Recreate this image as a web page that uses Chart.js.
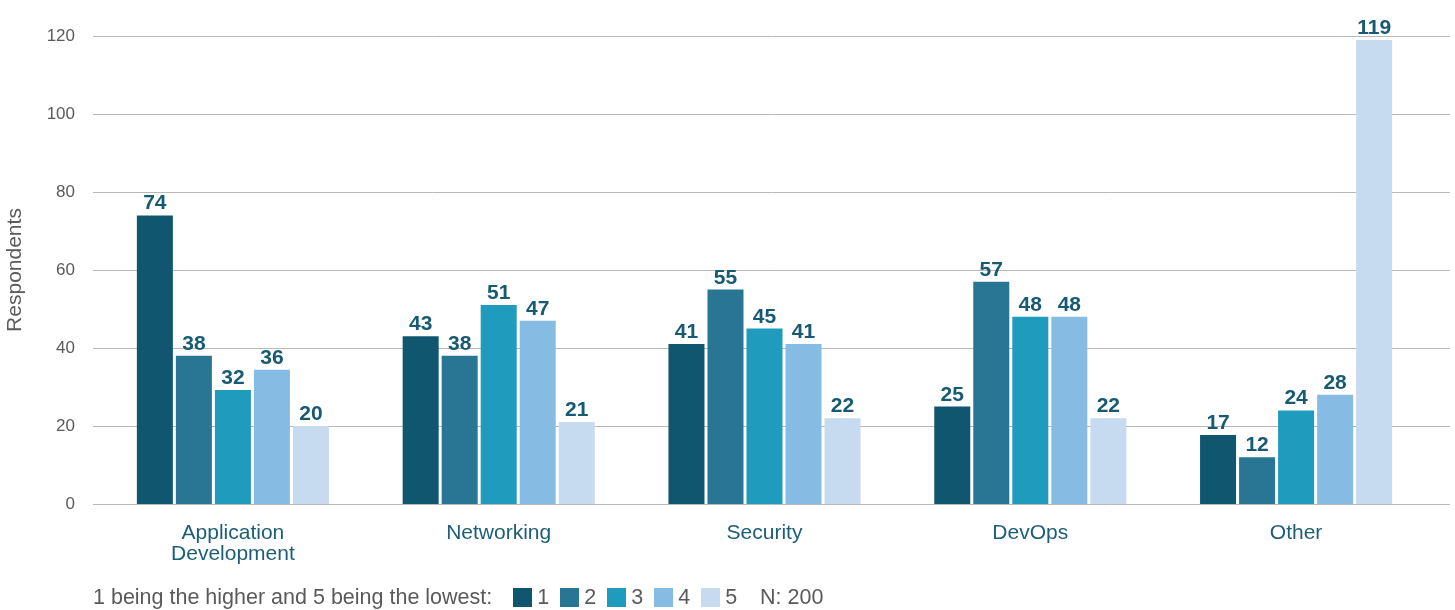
<!DOCTYPE html>
<html>
<head>
<meta charset="utf-8">
<script src="https://cdn.jsdelivr.net/npm/chart.js@4/dist/chart.umd.min.js"></script>
<style>
  html, body { margin: 0; padding: 0; background: #fff; }
  #wrap { position: relative; width: 1455px; height: 610px; }
  #legend {
    position: absolute; left: 93px; top: 587px; height: 20px;
    display: flex; align-items: center;
    font: 21.5px "Liberation Sans", Arial, sans-serif; color: #5a5a5a;
  }
  #legend .sw { width: 19px; height: 19px; margin-right: 5px; }
  #legend .it { display: flex; align-items: center; margin-right: 11px; }
</style>
</head>
<body>
<div id="wrap">
  <canvas id="chart" width="1455" height="610"></canvas>
  <div id="legend"></div>
</div>
<script>
const categories = [['Application', 'Development'], 'Networking', 'Security', 'DevOps', 'Other'];
const ranks = ['1', '2', '3', '4', '5'];
const colors = ['#10566e', '#287693', '#1e9bbd', '#86bce4', '#c6daf0'];

// bar heights as drawn in the picture
const rank1 = [74, 43, 41, 25, 17.7];
const rank2 = [38, 38, 55, 57, 12];
const rank3 = [29.2, 51, 45, 48, 24];
const rank4 = [34.4, 47, 41, 48, 28];
const rank5 = [20, 21, 22, 22, 119];

// numbers printed above the bars
const rank1Labels = [74, 43, 41, 25, 17];
const rank2Labels = [38, 38, 55, 57, 12];
const rank3Labels = [32, 51, 45, 48, 24];
const rank4Labels = [36, 47, 41, 48, 28];
const rank5Labels = [20, 21, 22, 22, 119];

const yTicks = [0, 20, 40, 60, 80, 100, 120];

const FONT = '"Liberation Sans", Arial, sans-serif';
const values = [rank1, rank2, rank3, rank4, rank5];
const labels = [rank1Labels, rank2Labels, rank3Labels, rank4Labels, rank5Labels];

const gridPlugin = {
  id: 'grid',
  beforeDatasetsDraw(chart) {
    const { ctx, chartArea, scales } = chart;
    ctx.save();
    ctx.strokeStyle = '#b9b9b9';
    ctx.lineWidth = 1;
    yTicks.forEach(v => {
      const y = Math.round(scales.y.getPixelForValue(v)) + 0.5;
      ctx.beginPath();
      ctx.moveTo(chartArea.left - 7, y);
      ctx.lineTo(chart.width - 5, y);
      ctx.stroke();
    });
    ctx.restore();
  }
};

const valueLabels = {
  id: 'valueLabels',
  afterDatasetsDraw(chart) {
    const { ctx } = chart;
    ctx.save();
    ctx.font = 'bold 21px ' + FONT;
    ctx.fillStyle = '#175a73';
    ctx.textAlign = 'center';
    ctx.textBaseline = 'alphabetic';
    chart.data.datasets.forEach((ds, i) => {
      chart.getDatasetMeta(i).data.forEach((bar, j) => {
        ctx.fillText(String(labels[i][j]), bar.x, bar.y - 6);
      });
    });
    ctx.restore();
  }
};

new Chart(document.getElementById('chart'), {
  type: 'bar',
  data: {
    labels: categories,
    datasets: ranks.map((r, i) => ({
      label: r,
      data: values[i],
      backgroundColor: colors[i],
      categoryPercentage: 0.734,
      barPercentage: 0.923
    }))
  },
  options: {
    responsive: false,
    animation: false,
    layout: { padding: { top: 36, right: 26, bottom: 34, left: 0 } },
    plugins: { legend: { display: false }, tooltip: { enabled: false } },
    scales: {
      x: {
        grid: { display: false },
        border: { display: false },
        ticks: {
          color: '#1c5e78',
          font: { family: FONT, size: 21, lineHeight: 1.0 },
          padding: 11,
          maxRotation: 0,
          autoSkip: false
        }
      },
      y: {
        min: 0,
        max: 120,
        afterFit(scale) { scale.width = 100; },
        grid: { display: false, drawTicks: false },
        border: { display: false },
        ticks: {
          stepSize: 20,
          color: '#5a5a5a',
          font: { family: FONT, size: 17 },
          padding: 25
        },
        title: {
          display: true,
          text: 'Respondents',
          color: '#5a5a5a',
          font: { family: FONT, size: 21 },
          padding: { top: 3, bottom: 0 }
        }
      }
    }
  },
  plugins: [gridPlugin, valueLabels]
});

const legend = document.getElementById('legend');
const prefix = document.createElement('span');
prefix.textContent = '1 being the higher and 5 being the lowest:';
prefix.style.marginRight = '21px';
legend.appendChild(prefix);
ranks.forEach((r, i) => {
  const it = document.createElement('span');
  it.className = 'it';
  const sw = document.createElement('span');
  sw.className = 'sw';
  sw.style.background = colors[i];
  const t = document.createElement('span');
  t.textContent = r;
  it.appendChild(sw);
  it.appendChild(t);
  legend.appendChild(it);
});
const n = document.createElement('span');
n.textContent = 'N: 200';
n.style.marginLeft = '12px';
legend.appendChild(n);
</script>
</body>
</html>
